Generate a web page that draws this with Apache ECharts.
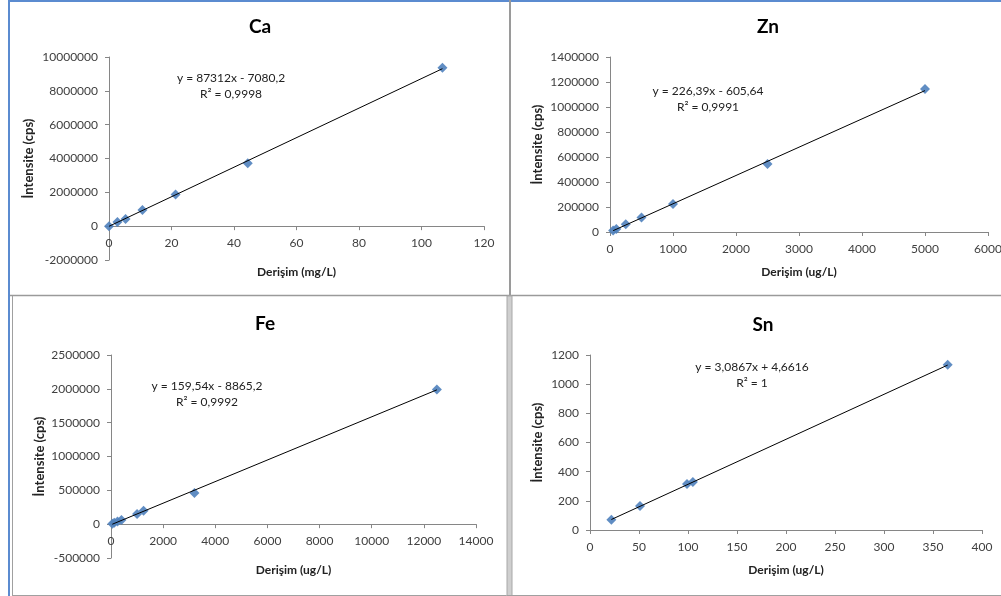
<!DOCTYPE html>
<html lang="tr">
<head>
    <meta charset="UTF-8" />
    <title>Kalibrasyon eğrileri</title>
    <script src="https://cdn.jsdelivr.net/npm/echarts@6.0.0/dist/echarts.min.js"></script>
    <style>
        html, body { margin: 0; padding: 0; background: #fff; }
    </style>
</head>
<body>
    <div id="main" style="width: 1001px; height: 596px"></div>
    <script>
        // okunan değerler (grafikten tahmin)
        var caX = [0, 2.7, 5.3, 10.7, 21.3, 44.4, 106.7];
        var caY = [0, 240000, 430000, 960000, 1870000, 3720000, 9370000];
        var caTrend = [[0, -7080], [106.7, 9310000]];

        var znX = [50, 100, 250, 500, 1000, 2500, 5000];
        var znY = [12000, 24000, 62000, 116000, 224000, 545000, 1145000];
        var znTrend = [[50, 10700], [5000, 1131300]];

        var feX = [50, 125, 250, 400, 1000, 1250, 3200, 12500];
        var feY = [8000, 20000, 40000, 60000, 150000, 200000, 460000, 1990000];
        var feTrend = [[50, -900], [12500, 1985400]];

        var snX = [21.8, 51, 99, 105, 365];
        var snY = [70, 165, 315, 330, 1133];
        var snTrend = [[21.8, 72], [365, 1131]];

        var titles = ["Ca", "Zn", "Fe", "Sn"];
        var equations = [
            ["y = 87312x - 7080,2", "R² = 0,9998"],
            ["y = 226,39x - 605,64", "R² = 0,9991"],
            ["y = 159,54x - 8865,2", "R² = 0,9992"],
            ["y = 3,0867x + 4,6616", "R² = 1"]
        ];
        var xNames = ["Derişim (mg/L)", "Derişim (ug/L)", "Derişim (ug/L)", "Derişim (ug/L)"];
        var yName = "İntensite (cps)";

        var font = "Lato, 'Open Sans', sans-serif";
        var axisGray = "#868686";
        var markBlue = "#4F81BD";

        function pairs(xs, ys) {
            return xs.map(function (x, i) { return [x, ys[i]]; });
        }
        function plain(v) {
            return String(v);
        }

        // panel yerleşimi
        var grids = [
            { left: 109, top: 57, width: 375, height: 203 },
            { left: 610, top: 57, width: 378, height: 175 },
            { left: 111, top: 355, width: 365, height: 203 },
            { left: 590, top: 355, width: 392, height: 175 }
        ];
        var xRanges = [[0, 120, 20], [0, 6000, 1000], [0, 14000, 2000], [0, 400, 50]];
        var yRanges = [[-2000000, 10000000, 2000000], [0, 1400000, 200000], [-500000, 2500000, 500000], [0, 1200, 200]];
        var xGaps = [40, 34, 40, 34];
        var yGaps = [74, 66, 65, 46];
        var titlePos = [[255, 12], [763, 12], [260, 309], [758, 310]];
        var eqPos = [[231, 70], [708, 83], [207, 378], [752, 359]];

        var chart = echarts.init(document.getElementById("main"));

        var xAxes = [], yAxes = [], series = [], titleList = [], graphics = [];
        var allData = [[caX, caY, caTrend], [znX, znY, znTrend], [feX, feY, feTrend], [snX, snY, snTrend]];

        for (var i = 0; i < 4; i++) {
            grids[i].outerBoundsMode = "none";
            // x ekseni sıfır çizgisine kaydırılır (eksi değerli paneller)
            var yMin = yRanges[i][0], yMax = yRanges[i][1];
            var shift = yMin < 0 ? -grids[i].height * (-yMin) / (yMax - yMin) : 0;

            titleList.push({
                text: titles[i],
                left: titlePos[i][0],
                top: titlePos[i][1],
                textAlign: "center",
                textStyle: { fontFamily: font, fontSize: 19, fontWeight: "bold", color: "#000" }
            });
            xAxes.push({
                type: "value",
                gridIndex: i,
                min: xRanges[i][0],
                max: xRanges[i][1],
                interval: xRanges[i][2],
                offset: shift,
                name: xNames[i],
                nameLocation: "middle",
                nameGap: xGaps[i],
                nameMoveOverlap: false,
                nameTextStyle: { fontFamily: font, fontSize: 12, fontWeight: "bold", color: "#222" },
                axisLine: { onZero: false, lineStyle: { color: axisGray, width: 1 } },
                axisTick: { show: true, inside: false, length: 4, lineStyle: { color: axisGray } },
                axisLabel: { fontFamily: font, fontSize: 12, color: "#404040", margin: 11, formatter: plain, showMinLabel: true, showMaxLabel: true },
                splitLine: { show: false }
            });
            yAxes.push({
                type: "value",
                gridIndex: i,
                min: yMin,
                max: yMax,
                interval: yRanges[i][2],
                name: yName,
                nameLocation: "middle",
                nameGap: yGaps[i],
                nameRotate: 90,
                nameMoveOverlap: false,
                nameTextStyle: { fontFamily: font, fontSize: 13, fontWeight: "bold", color: "#222" },
                axisLine: { show: true, onZero: false, lineStyle: { color: axisGray, width: 1 } },
                axisTick: { show: true, inside: false, length: 4, lineStyle: { color: axisGray } },
                axisLabel: { fontFamily: font, fontSize: 12, color: "#404040", margin: 11, formatter: plain, showMinLabel: true, showMaxLabel: true },
                splitLine: { show: false }
            });
            series.push({
                type: "line",
                xAxisIndex: i,
                yAxisIndex: i,
                data: allData[i][2],
                symbol: "none",
                lineStyle: { color: "#000", width: 1 },
                silent: true,
                z: 3
            });
            series.push({
                type: "scatter",
                xAxisIndex: i,
                yAxisIndex: i,
                data: pairs(allData[i][0], allData[i][1]),
                symbol: "diamond",
                symbolSize: 10,
                itemStyle: { color: markBlue, opacity: 0.9 },
                z: 2
            });
            graphics.push({
                type: "text",
                x: eqPos[i][0],
                y: eqPos[i][1],
                style: {
                    text: equations[i][0] + "\n" + equations[i][1],
                    font: "12px " + font,
                    fill: "#222",
                    align: "center",
                    lineHeight: 16
                }
            });
        }

        // çerçeveler
        var frames = [
            { type: "line", shape: { x1: 9, y1: 1, x2: 1001, y2: 1 }, style: { stroke: "#5b8bd0", lineWidth: 2 } },
            { type: "line", shape: { x1: 9, y1: 0, x2: 9, y2: 596 }, style: { stroke: "#5b8bd0", lineWidth: 2 } },
            { type: "line", shape: { x1: 10, y1: 295.5, x2: 1001, y2: 295.5 }, style: { stroke: "#9a9a9a", lineWidth: 1.5 } },
            { type: "line", shape: { x1: 510, y1: 0, x2: 510, y2: 296 }, style: { stroke: "#9a9a9a", lineWidth: 2 } },
            { type: "line", shape: { x1: 12.5, y1: 296, x2: 12.5, y2: 596 }, style: { stroke: "#a0a0a0", lineWidth: 1 } },
            { type: "rect", shape: { x: 507, y: 296, width: 5, height: 300 }, style: { fill: "#cfcfcf", stroke: "#a8a8a8", lineWidth: 1 } },
            { type: "line", shape: { x1: 12, y1: 595.5, x2: 1001, y2: 595.5 }, style: { stroke: "#a0a0a0", lineWidth: 1 } }
        ];

        var option = {
            backgroundColor: "#fff",
            animation: false,
            title: titleList,
            grid: grids,
            xAxis: xAxes,
            yAxis: yAxes,
            series: series,
            graphic: graphics.concat(frames)
        };

        chart.setOption(option);
    </script>
</body>
</html>
